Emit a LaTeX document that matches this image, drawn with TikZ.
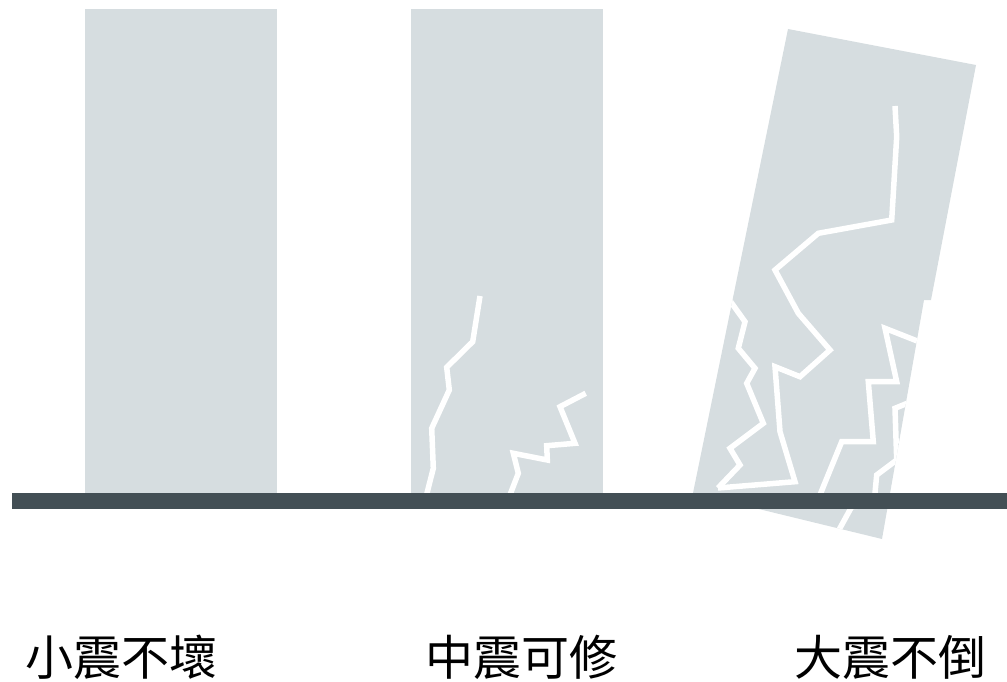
\documentclass[tikz,border=0pt]{standalone}
\usepackage{fontspec}
\newfontfamily\cjk{Noto Sans CJK TC}
\definecolor{wall}{RGB}{214,221,224}
\definecolor{ground}{RGB}{67,79,85}
\tikzset{
  crack/.style={white,line width=5.5pt,line join=miter},
  caption/.style={font=\cjk\fontsize{48}{52}\selectfont,inner sep=0pt,anchor=west}
}
% outline of the leaning block
\def\tilted{(788,29)--(976,65)--(931,300)--(924,300)--(882,539)--(693,493)--cycle}

\begin{document}
\begin{tikzpicture}[x=1pt,y=-1pt]
\useasboundingbox (0,0) rectangle (1007,682);
% first block, no damage
\fill[wall] (85,9) rectangle (277,493);
% second block with two cracks
\fill[wall] (411,9) rectangle (603,493);
\begin{scope}
\clip (411,9) rectangle (603,493);
\draw[crack] (480,296)--(472.7,341.7)--(446.7,367.3)--(449.3,390)--(431.7,428.3)--(433.3,468.3)--(424,505);
\draw[crack] (585.7,393.3)--(560,406.7)--(575,443.3)--(546.7,445.7)--(547.3,460)--(513.3,453.3)--(518.3,473.3)--(508,500);
\end{scope}
% third block, leaning and broken
\fill[wall] \tilted;
\begin{scope}
\clip \tilted;
\draw[crack] (895,106)--(896.7,136.7)--(891.7,220)--(818.3,233.3)--(775,270)--(798.3,313.3)--(830,350)--(800,376.7)--(775,366.7)--(780,431.7)--(795,481.7)--(718,488);
\draw[crack] (728,298)--(745,321.7)--(738.3,348.3)--(755,368.3)--(746.7,383.3)--(763.3,423.3)--(730,448.3)--(740,465)--(718,488);
\draw[crack] (935,348)--(885,328.3)--(896.7,381.7)--(868.3,381.7)--(873.3,441.7)--(841.7,441.7)--(823.3,486.7)--(818,500);
\draw[crack] (925,396)--(895,408.3)--(896.7,460)--(876.7,475)--(875,493)--(873.3,505)--(851.7,506.7)--(839.3,529.3);
\end{scope}
% ground
\fill[ground] (12,493) rectangle (1007,509);
% captions
\node[caption] (minor) at (25,657) {小震不壞};
\node[caption] (moderate) at (425,657) {中震可修};
\node[caption] (major) at (794,657) {大震不倒};
\end{tikzpicture}
\end{document}
